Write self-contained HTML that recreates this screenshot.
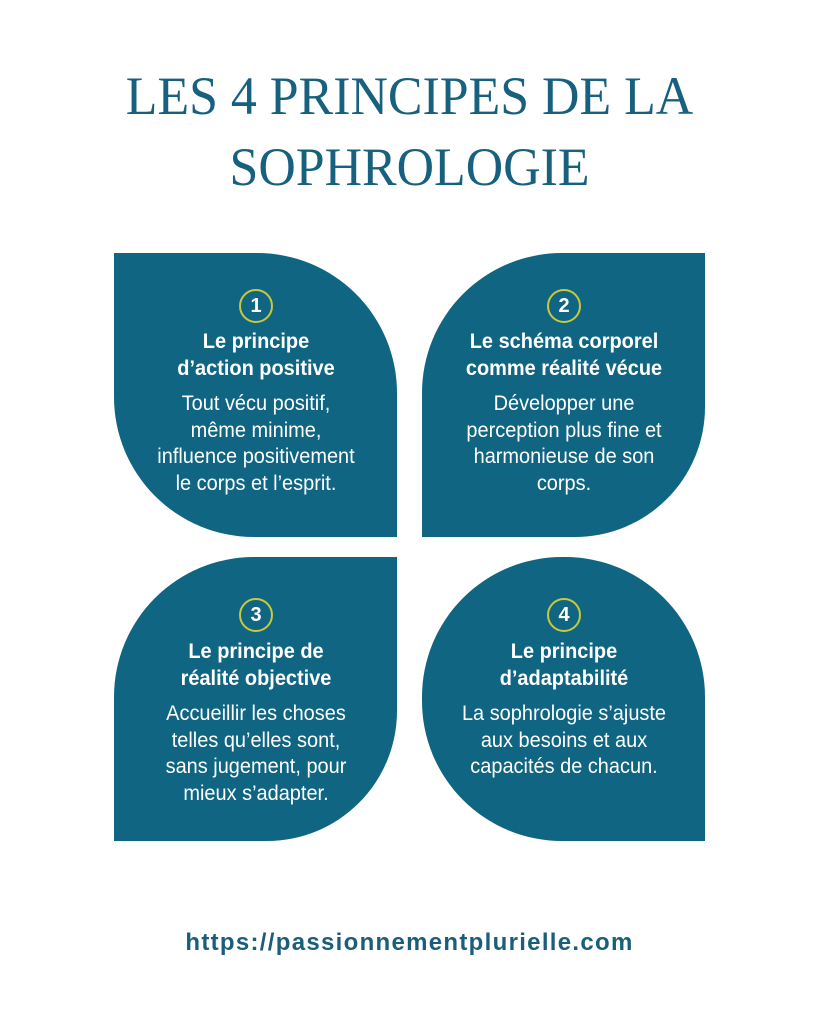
<!DOCTYPE html>
<html><head><meta charset="utf-8"><style>
body{margin:0;width:819px;height:1024px;background:#fff;position:relative;overflow:hidden;font-family:"Liberation Sans",sans-serif}
.t{position:absolute;left:0;width:819px;text-align:center;font-family:"Liberation Serif",serif;color:#17617f;font-size:54px;line-height:1;transform:scaleX(.96)}
.q{position:absolute;width:283px;height:284px;background:#0f6582}
.c{position:absolute;width:30px;height:30px;border:2px solid #c9c93c;border-radius:50%;color:#fff;font-weight:bold;font-size:20px;line-height:30px;text-align:center}
.tx{position:absolute;width:400px;text-align:center;color:#fff;transform:scaleX(.95);transform-origin:center}
.h{font-weight:bold;font-size:21px;line-height:27px}
.b{font-size:21px;line-height:26.5px;margin-top:9px}
</style></head><body>
<div class="t" style="top:69px">LES 4 PRINCIPES DE LA</div>
<div class="t" style="top:140px">SOPHROLOGIE</div>

<div class="q" style="left:114px;top:253px;border-radius:0 140px 0 140px"></div>
<div class="q" style="left:422px;top:253px;border-radius:140px 0 130px 0"></div>
<div class="q" style="left:114px;top:557px;border-radius:140px 0 130px 0"></div>
<div class="q" style="left:422px;top:557px;border-radius:140px 140px 0 140px"></div>

<div class="c" style="left:239px;top:289px">1</div>
<div class="c" style="left:547px;top:289px">2</div>
<div class="c" style="left:239px;top:598px">3</div>
<div class="c" style="left:547px;top:598px">4</div>

<div class="tx" style="left:56px;top:328px"><div class="h">Le principe<br>d’action positive</div><div class="b">Tout vécu positif,<br>même minime,<br>influence positivement<br>le corps et l’esprit.</div></div>
<div class="tx" style="left:364px;top:328px"><div class="h">Le schéma corporel<br>comme réalité vécue</div><div class="b">Développer une<br>perception plus fine et<br>harmonieuse de son<br>corps.</div></div>
<div class="tx" style="left:56px;top:638px"><div class="h">Le principe de<br>réalité objective</div><div class="b">Accueillir les choses<br>telles qu’elles sont,<br>sans jugement, pour<br>mieux s’adapter.</div></div>
<div class="tx" style="left:364px;top:638px"><div class="h">Le principe<br>d’adaptabilité</div><div class="b">La sophrologie s’ajuste<br>aux besoins et aux<br>capacités de chacun.</div></div>

<div style="position:absolute;left:0;width:819px;top:929px;text-align:center;font-weight:bold;font-size:24px;letter-spacing:1.3px;color:#1b5e7a">https://passionnementplurielle.com</div>
</body></html>
